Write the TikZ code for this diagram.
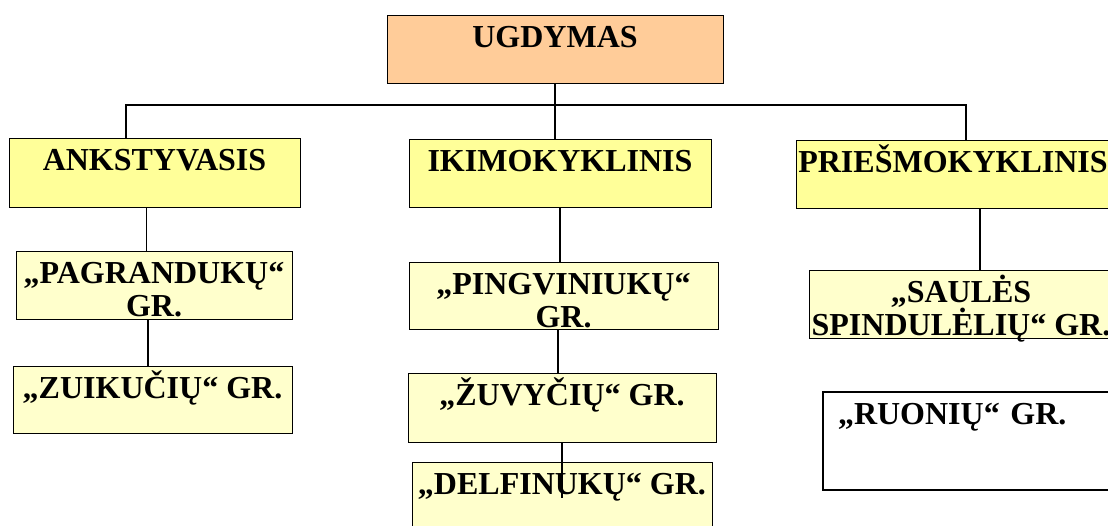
\documentclass[tikz,border=0pt]{standalone}
\usepackage{fontspec}
\setmainfont{Liberation Serif}
\definecolor{ugorange}{HTML}{FFCC99}
\definecolor{grpyellow}{HTML}{FFFF99}
\definecolor{grplight}{HTML}{FFFFCC}

\begin{document}
\begin{tikzpicture}[x=1pt, y=-1pt,
    box/.style={draw, line width=0.9pt, inner ysep=0pt, inner xsep=2pt, text height=32pt, align=center, font=\fontsize{32}{33.5}\selectfont\bfseries},
    twoline/.style={text height=65.5pt},
    link/.style={line width=1.2pt}]
    \clip (0, 0) rectangle (1108, 525);
    \node[box, minimum width=336pt, text depth=36pt, fill=ugorange] (ug) at (555, 49) {UGDYMAS};

    \node[box, minimum width=291pt, text depth=37pt, fill=grpyellow] (ank) at (154.5, 172.5) {ANKSTYVASIS};
    \node[box, minimum width=302pt, text depth=36pt, fill=grpyellow] (iki) at (560, 173) {IKIMOKYKLINIS};
    \node[box, minimum width=314pt, text depth=36pt, fill=grpyellow] (pries) at (953, 174) {PRIEŠMOKYKLINIS};

    \node[box, twoline, minimum width=276pt, text depth=2.5pt, fill=grplight] (pag) at (154, 285) {„PAGRANDUKŲ“\\GR.};
    \node[box, minimum width=279pt, text depth=35pt, fill=grplight] (zui) at (152.5, 399.5) {„ZUIKUČIŲ“ GR.};

    \node[box, twoline, minimum width=309pt, text depth=1.5pt, fill=grplight] (ping) at (563.5, 295.5) {„PINGVINIUKŲ“\\GR.};
    \node[box, minimum width=308pt, text depth=37pt, fill=grplight] (zuv) at (562, 407.5) {„ŽUVYČIŲ“ GR.};
    \node[box, minimum width=300pt, text depth=46pt, fill=grplight] (delf) at (562, 501) {„DELFINUKŲ“ GR.};

    \node[box, twoline, minimum width=298pt, text depth=2.5pt, fill=grplight] (saul) at (961, 304) {„SAULĖS\\SPINDULĖLIŲ“ GR.};
    \node[box, line width=2pt, text width=262pt, inner xsep=15pt, text depth=66pt, align=left, fill=white] (ruon) at (969, 441) {„RUONIŲ“ GR.};

    \coordinate (lb) at (126, 105);
    \coordinate (rb) at (966, 105);
    \coordinate (dend) at (562, 498);

    \draw[link] (ug.south) -- (ug.south |- iki.north);
    \draw[link] (lb |- ank.north) -- (lb) -- (rb) -- (rb |- pries.north);

    \draw[link] ([xshift=-8pt]ank.south) -- ([xshift=-8pt]ank.south |- pag.north);
    \draw[link] ([xshift=-6pt]pag.south) -- ([xshift=-6pt]pag.south |- zui.north);

    \draw[link] (iki.south) -- (iki.south |- ping.north);
    \draw[link] ([xshift=-5.5pt]ping.south) -- ([xshift=-5.5pt]ping.south |- zuv.north);
    \draw[link] (zuv.south) -- (dend);

    \draw[link] ([xshift=27pt]pries.south) -- ([xshift=27pt]pries.south |- saul.north);
\end{tikzpicture}
\end{document}
